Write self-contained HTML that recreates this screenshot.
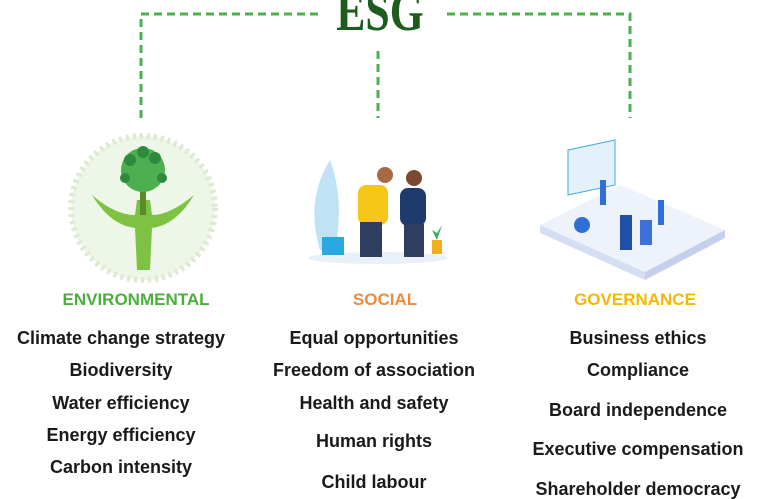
<!DOCTYPE html>
<html><head><meta charset="utf-8"><style>
body{margin:0;width:765px;height:495px;background:#fff;position:relative;overflow:hidden;font-family:"Liberation Sans Narrow","Liberation Sans",sans-serif}
.t{position:absolute;transform:translateX(-50%);white-space:nowrap;font-weight:bold;font-size:18px;color:#1a1a1a;line-height:20px}
.h{font-size:17px}
svg{position:absolute;left:0;top:0}
</style></head><body>
<svg width="765" height="495">
<g stroke="#4caf50" stroke-width="3" fill="none" stroke-dasharray="8 5">
<path d="M141 118 V14 H322"/><path d="M447 14 H630 V118"/><path d="M378 51 V118"/>
</g>
<text x="380" y="30" text-anchor="middle" font-family="Liberation Serif,serif" font-weight="bold" font-size="56" fill="#1e5c1e" transform="translate(380 0) scale(0.78 1) translate(-380 0)">ESG</text>
<!-- environmental -->
<circle cx="143" cy="208" r="72" fill="#eef6e8"/>
<circle cx="143" cy="208" r="72" fill="none" stroke="#dbead0" stroke-width="6" stroke-dasharray="3 4"/>
<path d="M92 195 Q110 225 135 228 L137 270 H150 L152 228 Q176 225 194 195 Q170 215 152 215 L150 200 H137 L135 215 Q115 215 92 195Z" fill="#7dc242"/>
<rect x="140" y="185" width="6" height="30" fill="#5b8a2d"/>
<g fill="#4caf50"><circle cx="143" cy="170" r="22"/></g>
<g fill="#2e8b3e"><circle cx="130" cy="160" r="6"/><circle cx="155" cy="158" r="6"/><circle cx="143" cy="152" r="6"/><circle cx="125" cy="178" r="5"/><circle cx="162" cy="178" r="5"/></g>
<!-- social -->
<ellipse cx="378" cy="258" rx="70" ry="6" fill="#e8f0f8"/>
<path d="M320 250 Q305 200 330 160 Q345 200 335 250Z" fill="#bfe3f5"/>
<rect x="322" y="237" width="22" height="18" fill="#29a9e0"/>
<circle cx="385" cy="175" r="8" fill="#a86a45"/><rect x="358" y="185" width="30" height="40" rx="8" fill="#f5c518"/>
<rect x="360" y="222" width="22" height="35" fill="#2d3e5e"/>
<circle cx="414" cy="178" r="8" fill="#7a4a30"/><rect x="400" y="188" width="26" height="38" rx="8" fill="#1f3a6d"/>
<rect x="404" y="224" width="20" height="33" fill="#2d3e5e"/>
<rect x="432" y="240" width="10" height="14" fill="#f0b020"/><path d="M437 240 l-5 -10 l5 3 l5 -8 z" fill="#3cae5a"/>
<!-- governance -->
<path d="M540 225 L620 185 L725 230 L645 272Z" fill="#eef2fb"/>
<path d="M540 225 L645 272 L645 280 L540 233Z" fill="#d5def2"/>
<path d="M645 272 L725 230 L725 238 L645 280Z" fill="#c5d0ec"/>
<path d="M568 150 L615 140 L615 185 L568 195Z" fill="#e3f1fb" stroke="#3fa9e0"/>
<rect x="620" y="215" width="12" height="35" fill="#1f4fa8"/><rect x="640" y="220" width="12" height="25" fill="#3f6fd8"/>
<circle cx="582" cy="225" r="8" fill="#2f6fd8"/>
<rect x="600" y="180" width="6" height="25" fill="#2f6fd8"/><rect x="658" y="200" width="6" height="25" fill="#2f6fd8"/>
</svg>
<div class="t h" style="left:136px;top:290px;color:#4caf3c">ENVIRONMENTAL</div>
<div class="t h" style="left:385px;top:290px;color:#f08a3c">SOCIAL</div>
<div class="t h" style="left:635px;top:290px;color:#f5b800">GOVERNANCE</div>
<div class="t" style="left:121px;top:328px">Climate change strategy</div>
<div class="t" style="left:121px;top:360px">Biodiversity</div>
<div class="t" style="left:121px;top:393px">Water efficiency</div>
<div class="t" style="left:121px;top:425px">Energy efficiency</div>
<div class="t" style="left:121px;top:457px">Carbon intensity</div>
<div class="t" style="left:374px;top:328px">Equal opportunities</div>
<div class="t" style="left:374px;top:360px">Freedom of association</div>
<div class="t" style="left:374px;top:393px">Health and safety</div>
<div class="t" style="left:374px;top:431px">Human rights</div>
<div class="t" style="left:374px;top:472px">Child labour</div>
<div class="t" style="left:638px;top:328px">Business ethics</div>
<div class="t" style="left:638px;top:360px">Compliance</div>
<div class="t" style="left:638px;top:400px">Board independence</div>
<div class="t" style="left:638px;top:439px">Executive compensation</div>
<div class="t" style="left:638px;top:479px">Shareholder democracy</div>
</body></html>
